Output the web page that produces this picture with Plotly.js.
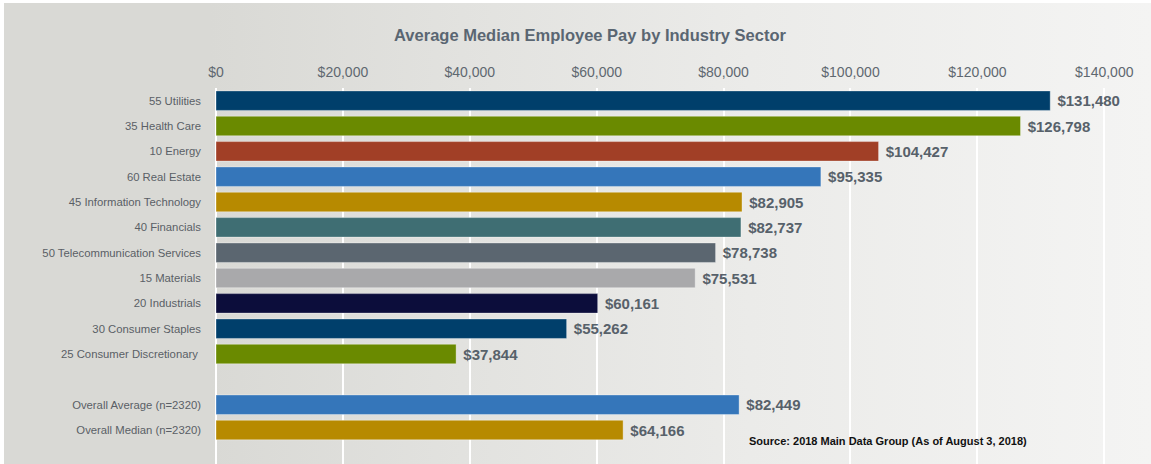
<!DOCTYPE html>
<html>
<head>
<meta charset="utf-8">
<script src="https://cdn.plot.ly/plotly-3.0.1.min.js"></script>
<style>
  html, body { margin: 0; padding: 0; background: #ffffff; }
  #wrap { position: absolute; left: 0; top: 0; width: 1151px; height: 464px; background: #ffffff; overflow: hidden; }
  #bg { position: absolute; left: 4px; top: 3px; right: 0; bottom: 0;
        background: linear-gradient(to right, #d9d9d5 0%, #d9d9d5 18%, #e2e2df 40%, #ebebe9 65%, #f4f4f3 100%); }
  #chart { position: absolute; left: 0; top: 0; width: 1151px; height: 464px; }
</style>
</head>
<body>
<div id="wrap"><div id="bg"></div><div id="chart"></div></div>
<script>
const categories = [
  "55 Utilities",
  "35 Health Care",
  "10 Energy",
  "60 Real Estate",
  "45 Information Technology",
  "40 Financials",
  "50 Telecommunication Services",
  "15 Materials",
  "20 Industrials",
  "30 Consumer Staples",
  "25 Consumer Discretionary ",
  "Overall Average (n=2320)",
  "Overall Median (n=2320)"
];
const values = [131480, 126798, 104427, 95335, 82905, 82737, 78738, 75531, 60161, 55262, 37844, 82449, 64166];
const colors = ["#003f6b", "#6a8a00", "#a13f26", "#3576ba", "#b78a00", "#3f6e73", "#5b6670", "#a9a9ab",
                "#0c0d3b", "#003f6b", "#6a8a00", "#3576ba", "#b78a00"];
// axis order, with an empty slot separating sectors from overall figures
const axisOrder = categories.slice(0, 11).concat([" "], categories.slice(11));
const xTicks = [0, 20000, 40000, 60000, 80000, 100000, 120000, 140000];
const titleText = "Average Median Employee Pay by Industry Sector";
const sourceText = "Source: 2018 Main Data Group (As of August 3, 2018)";

const trace = {
  type: "bar",
  orientation: "h",
  y: categories,
  x: values,
  marker: { color: colors, line: { color: "rgba(255,255,255,0.35)", width: 1 } },
  width: 0.77,
  texttemplate: "\u00a0%{x:$,.0f}",
  textposition: "outside",
  constraintext: "none",
  cliponaxis: false,
  textfont: { family: "Liberation Sans, Arial, sans-serif", size: 15, color: "#57616a", weight: "bold" },
  hoverinfo: "skip"
};

const layout = {
  width: 1151,
  height: 464,
  paper_bgcolor: "rgba(0,0,0,0)",
  plot_bgcolor: "rgba(0,0,0,0)",
  margin: { l: 216, r: 15, t: 88, b: 0, pad: 0 },
  showlegend: false,
  font: { family: "Liberation Sans, Arial, sans-serif" },
  title: {
    text: "<b>" + titleText + "</b>",
    font: { family: "Liberation Sans, Arial, sans-serif", size: 16.5, color: "#5a6672" },
    x: 0.5126, xref: "container", xanchor: "center",
    y: 1 - 35 / 464, yref: "container", yanchor: "middle"
  },
  xaxis: {
    side: "top",
    range: [0, 145000],
    tickvals: xTicks,
    tickformat: "$,.0f",
    showgrid: true,
    gridcolor: "#ffffff",
    gridwidth: 2,
    zeroline: true,
    zerolinecolor: "#ffffff",
    zerolinewidth: 2,
    showline: false,
    ticks: "",
    ticklabelstandoff: 7,
    tickfont: { family: "Liberation Sans, Arial, sans-serif", size: 14, color: "#5f6870" },
    fixedrange: true
  },
  yaxis: {
    type: "category",
    categoryorder: "array",
    categoryarray: axisOrder,
    range: [14.34, -0.5],
    showgrid: false,
    zeroline: false,
    showline: false,
    ticks: "",
    ticklabelstandoff: 14,
    tickfont: { family: "Liberation Sans, Arial, sans-serif", size: 11.3, color: "#5a5f66" },
    fixedrange: true
  },
  annotations: [{
    text: "<b>" + sourceText + "</b>",
    xref: "paper", yref: "paper",
    x: (747 - 216) / 920, y: (464 - 441) / 376,
    xanchor: "left", yanchor: "middle",
    showarrow: false,
    font: { family: "Liberation Sans, Arial, sans-serif", size: 11, color: "#111111" }
  }]
};

Plotly.newPlot("chart", [trace], layout, { displayModeBar: false, staticPlot: true });
</script>
</body>
</html>
